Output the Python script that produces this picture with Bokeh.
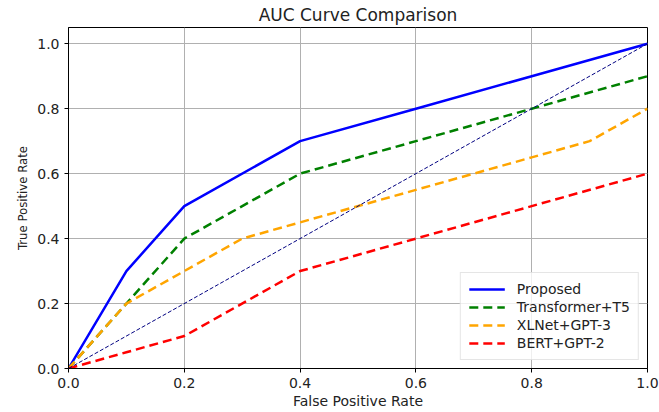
from bokeh.plotting import figure
from bokeh.embed import file_html
from bokeh.resources import INLINE
from bokeh.models import Legend, LegendItem, Range1d, FixedTicker, CustomJSTickFormatter

fpr_proposed = [0.0, 0.1, 0.2, 0.4, 0.6, 0.8, 1.0]
tpr_proposed = [0.0, 0.3, 0.5, 0.7, 0.8, 0.9, 1.0]

fpr_t5 = [0.0, 0.1, 0.2, 0.4, 0.6, 0.8, 1.0]
tpr_t5 = [0.0, 0.2, 0.4, 0.6, 0.7, 0.8, 0.9]

fpr_xlnet = [0.0, 0.1, 0.2, 0.3, 0.4, 0.6, 0.8, 0.9, 1.0]
tpr_xlnet = [0.0, 0.2, 0.3, 0.4, 0.45, 0.55, 0.65, 0.7, 0.8]

fpr_bert = [0.0, 0.1, 0.2, 0.4, 0.6, 0.8, 1.0]
tpr_bert = [0.0, 0.05, 0.1, 0.3, 0.4, 0.5, 0.6]

diag = [0.0, 1.0]

ticks = [0.0, 0.2, 0.4, 0.6, 0.8, 1.0]

FONT = "DejaVu Sans"

p = figure(width=659, height=412, output_backend="svg", toolbar_location=None,
           x_range=Range1d(0, 1.0), y_range=Range1d(0, 1.05),
           min_border_left=68, min_border_right=12, min_border_bottom=44, min_border_top=6,
           title="AUC Curve Comparison")
p.title.align = "center"
p.title.text_font = FONT
p.title.text_font_style = "normal"
p.title.text_font_size = "17px"
p.title.text_color = "#222222"
p.title.standoff = 5

p.outline_line_color = "black"
p.outline_line_width = 1
p.background_fill_color = "white"
p.border_fill_color = "white"

fmt = CustomJSTickFormatter(code="return tick.toFixed(1);")
for ax in (p.xaxis[0], p.yaxis[0]):
    ax.ticker = FixedTicker(ticks=ticks)
    ax.formatter = fmt
    ax.minor_tick_line_color = None
    ax.major_tick_out = 4
    ax.major_tick_in = 0
    ax.major_label_text_font = FONT
    ax.major_label_text_font_size = "14px"
    ax.major_label_text_color = "#222222"
    ax.axis_label_text_font = FONT
    ax.axis_label_text_font_style = "normal"
    ax.axis_label_text_color = "#222222"
    ax.axis_line_color = "black"
    ax.major_tick_line_color = "black"

p.xaxis.axis_label = "False Positive Rate"
p.xaxis.axis_label_text_font_size = "14px"
p.xaxis.axis_label_standoff = 2
p.yaxis.axis_label = "True Positive Rate"
p.yaxis.axis_label_text_font = "DejaVu Sans Condensed"
p.yaxis.axis_label_text_font_size = "13px"
p.yaxis.axis_label_standoff = 4
p.yaxis.major_label_standoff = 5

p.grid.grid_line_color = "#b0b0b0"
p.grid.grid_line_width = 1
p.xgrid.ticker = FixedTicker(ticks=ticks)
p.ygrid.ticker = FixedTicker(ticks=ticks)

r1 = p.line(fpr_proposed, tpr_proposed, line_color="blue", line_width=2.5)
r2 = p.line(fpr_t5, tpr_t5, line_color="green", line_width=2.5, line_dash="9 5")
r3 = p.line(fpr_xlnet, tpr_xlnet, line_color="orange", line_width=2.5, line_dash="9 5")
r4 = p.line(fpr_bert, tpr_bert, line_color="red", line_width=2.5, line_dash="9 5")
p.line(diag, diag, line_color="navy", line_width=1, line_dash="4 2")

legend = Legend(items=[
    LegendItem(label="Proposed", renderers=[r1]),
    LegendItem(label="Transformer+T5", renderers=[r2]),
    LegendItem(label="XLNet+GPT-3", renderers=[r3]),
    LegendItem(label="BERT+GPT-2", renderers=[r4]),
], location="bottom_right")
legend.label_text_font = FONT
legend.label_text_font_size = "14px"
legend.label_text_color = "#222222"
legend.glyph_width = 36
legend.glyph_height = 14
legend.label_height = 14
legend.spacing = 2
legend.padding = 8
legend.margin = 8
legend.label_standoff = 12
legend.border_line_color = "#cccccc"
legend.border_line_width = 1
legend.background_fill_alpha = 0.8
p.add_layout(legend)

open("out.html", "w").write(file_html(p, INLINE))
